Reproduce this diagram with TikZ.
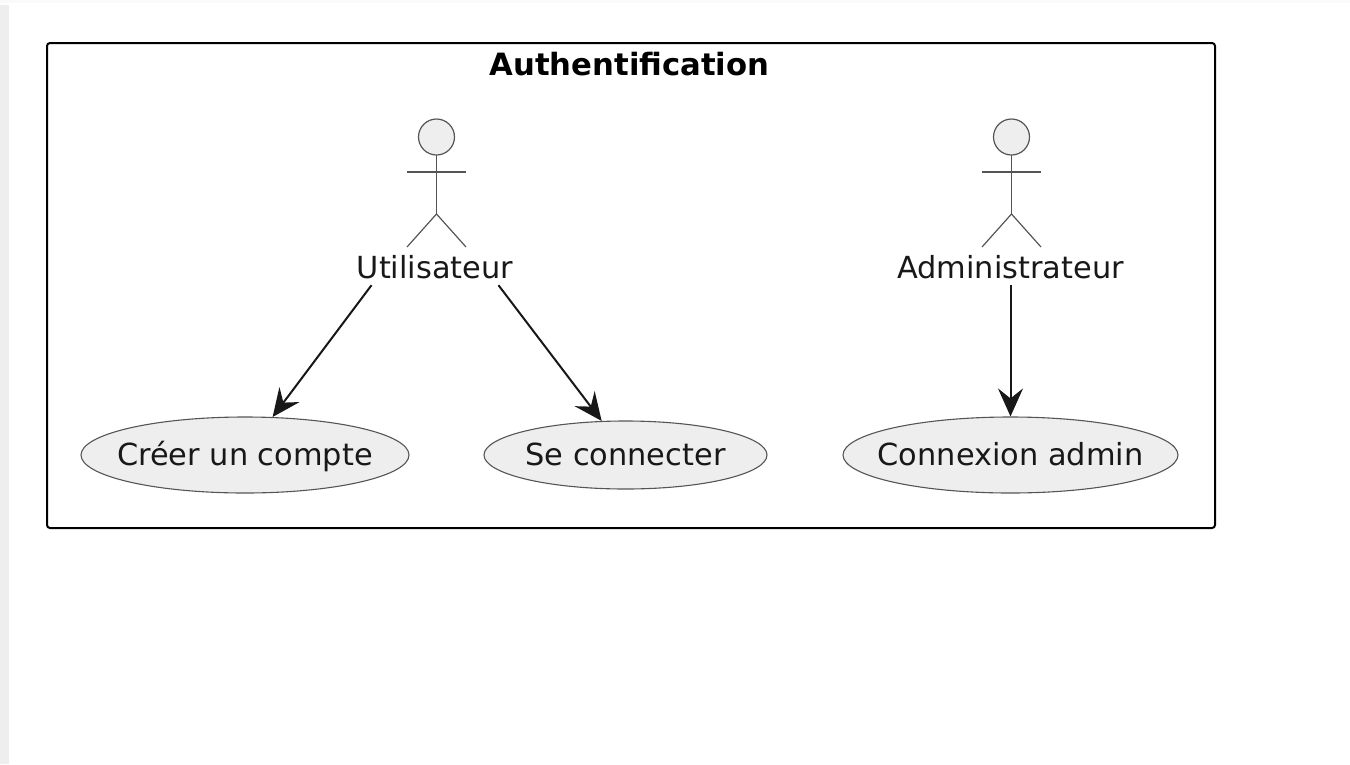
\documentclass[tikz,border=0pt]{standalone}
\usepackage{fontspec}
\setmainfont{DejaVu Sans}
\usetikzlibrary{arrows.meta,shapes.geometric}
\definecolor{umlfill}{HTML}{EEEEEE}
\definecolor{umlline}{HTML}{555555}
\definecolor{umltext}{HTML}{181818}
\newcommand{\casetext}[1]{\makebox[0pt]{\raisebox{-0.36em}[0pt][0pt]{#1}}}
\tikzset{
	label/.style={inner sep=0, text=umltext, font=\fontsize{30.4}{36}\selectfont, minimum height=36, text depth=0},
	usecase/.style={ellipse, draw=umlline, line width=1.1, fill=umlfill, inner sep=0, text=umltext, font=\fontsize{30.4}{36}\selectfont},
	actorline/.style={draw=umlline, line width=1.2},
	link/.style={draw=umltext, line width=2, -{Stealth[length=28, width=25, inset=10]}}
}
\begin{document}
\begin{tikzpicture}[x=1pt, y=-1pt]
	\useasboundingbox (0, 0) rectangle (1350, 764);

	%page edges
	\fill [black!2] (0, 0) rectangle (1350, 3);
	\fill [umlfill] (0, 5) rectangle (9, 764);

	%frame
	\draw [black, line width=2, rounded corners=3] (47, 43) rectangle (1215, 528);
	\node (title) at (629.5, 64) [inner sep=0, font=\fontsize{30.7}{36}\selectfont\bfseries] {Authentification};

	%actors
	\foreach \x in {436.5, 1011.5} {
		\draw [actorline, fill=umlfill] (\x, 137) circle (18);
		\draw [actorline] (\x, 155) -- (\x, 214);
		\draw [actorline] (\x - 29.5, 172) -- (\x + 29.5, 172);
		\draw [actorline] (\x - 29.5, 247) -- (\x, 214) -- (\x + 29.5, 247);
	}
	\node (utilisateur) at (435, 267) [label, minimum width=157] {Utilisateur};
	\node (administrateur) at (1010.5, 267) [label, minimum width=229] {Administrateur};

	%use cases
	\node (creer) at (245, 455) [usecase, minimum width=328, minimum height=76] {\casetext{Créer un compte}};
	\node (connecter) at (625.5, 455) [usecase, minimum width=283, minimum height=68] {\casetext{Se connecter}};
	\node (connexion) at (1010.5, 455) [usecase, minimum width=335, minimum height=76] {\casetext{Connexion admin}};

	%paths
	\draw [link] (utilisateur.196.7) -- (creer.54.6);
	\draw [link] (utilisateur.344.4) -- (connecter.125.8);
	\draw [link] (administrateur.south) -- (connexion.north);

\end{tikzpicture}
\end{document}
